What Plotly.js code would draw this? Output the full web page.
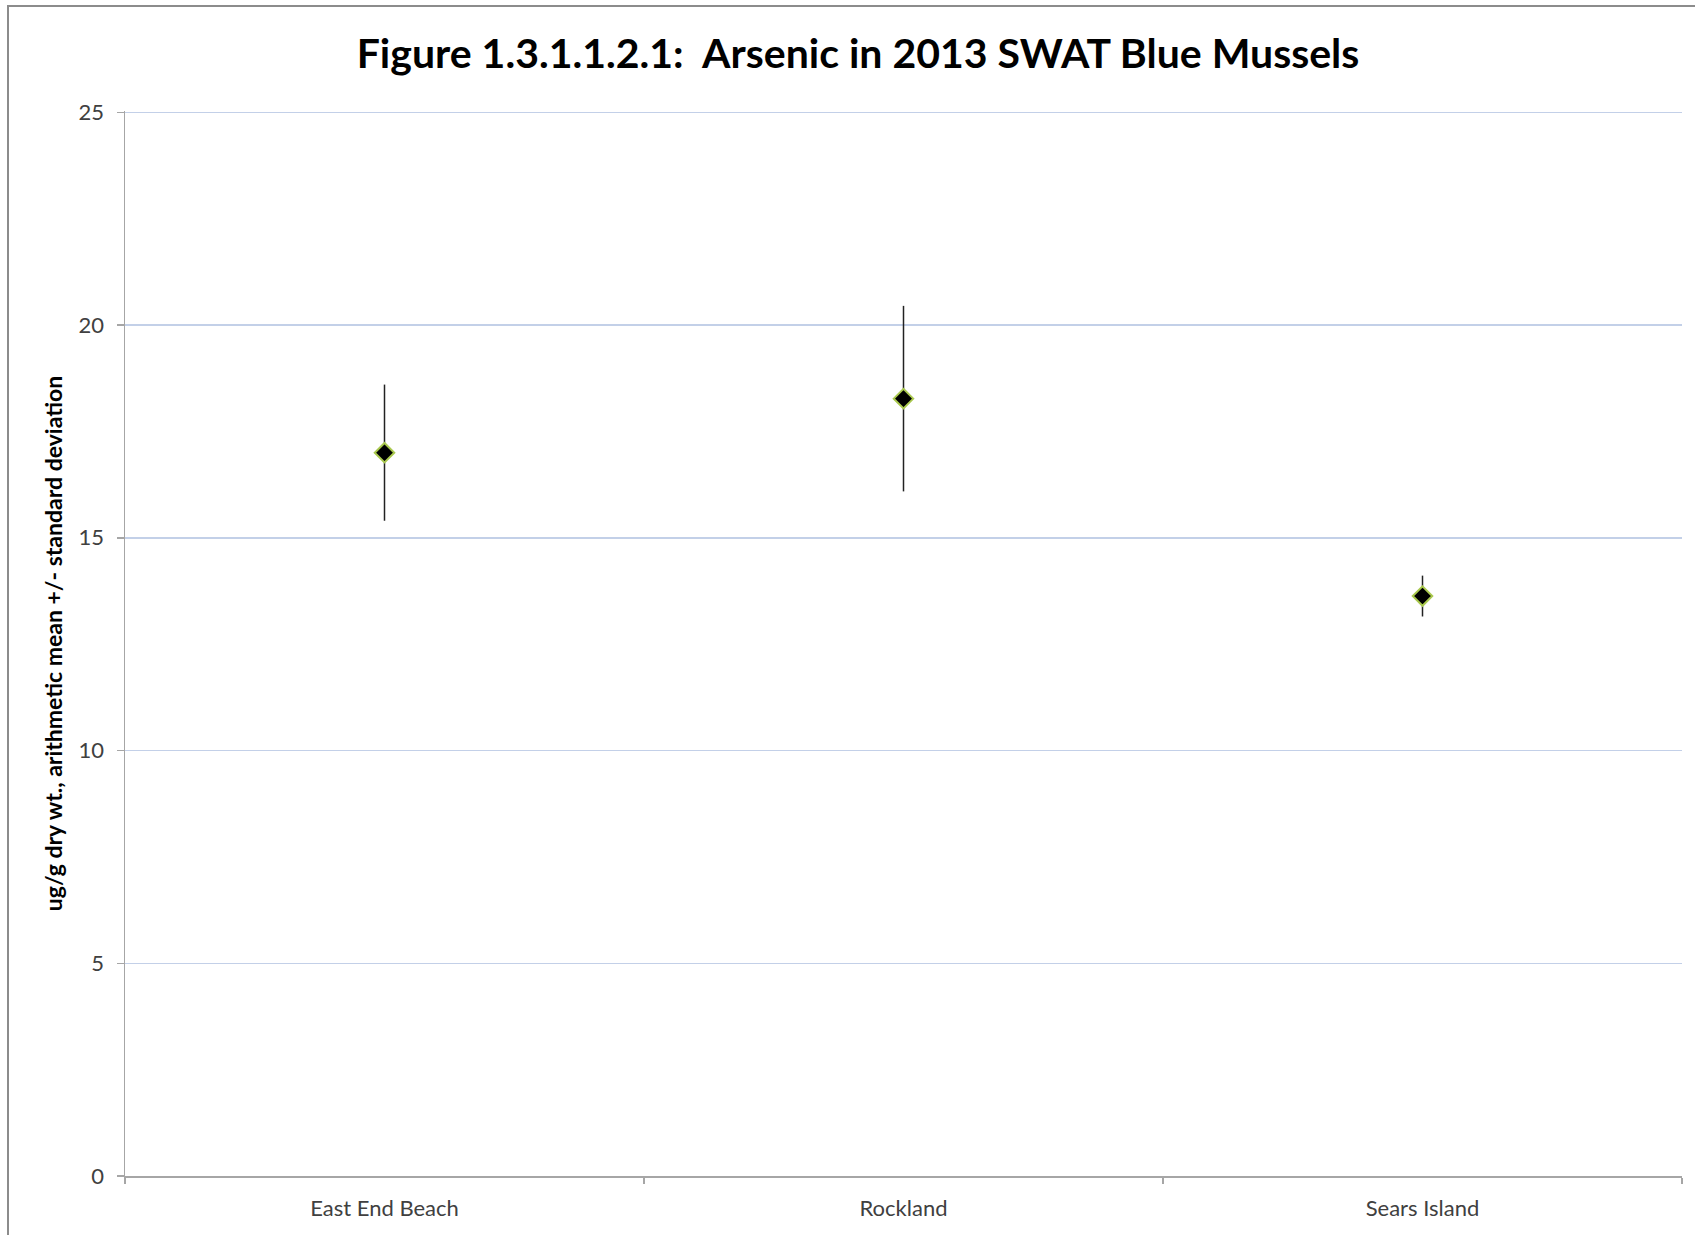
<!DOCTYPE html>
<html>
<head>
<meta charset="utf-8">
<script src="https://cdn.plot.ly/plotly-3.0.1.min.js"></script>
<style>
  html, body { margin: 0; padding: 0; background: #fff; overflow: hidden; }
  #chart { width: 1695px; height: 1235px; }
  #frame { position: absolute; left: 7px; top: 5px; width: 1800px; height: 1400px;
           border: 2px solid #8c8c8c; pointer-events: none; }
</style>
</head>
<body>
<div id="chart"></div>
<div id="frame"></div>
<script>
const categories = ["East End Beach", "Rockland", "Sears Island"];
const meanValues = [17.0, 18.27, 13.63];
const sdValues = [1.6, 2.18, 0.48];
const yTickValues = [0, 5, 10, 15, 20, 25];

const trace = {
  type: "scatter",
  mode: "markers",
  x: categories,
  y: meanValues,
  error_y: { type: "data", array: sdValues, visible: true, color: "#222222", thickness: 1.5, width: 0 },
  marker: { symbol: "diamond", size: 15, color: "#000000", line: { color: "#a9c84e", width: 2 } },
  hoverinfo: "skip"
};

const layout = {
  width: 1695,
  height: 1235,
  margin: { l: 125, r: 13, t: 111, b: 59 },
  paper_bgcolor: "#ffffff",
  plot_bgcolor: "#ffffff",
  showlegend: false,
  font: { family: "Lato, 'Open Sans', sans-serif", color: "#404040" },
  title: {
    text: "<b>Figure 1.3.1.1.2.1:  Arsenic in 2013 SWAT Blue Mussels</b>",
    font: { family: "Lato, 'Open Sans', sans-serif", size: 41, color: "#000000" },
    x: 858 / 1695, xanchor: "center", xref: "container",
    y: 1 - 54 / 1235, yanchor: "middle", yref: "container"
  },
  xaxis: {
    type: "category",
    range: [-0.5, 2.5],
    tickson: "boundaries",
    ticks: "outside",
    ticklen: 6,
    tickcolor: "#a6a6a6",
    tickwidth: 1.5,
    showline: true,
    linecolor: "#a6a6a6",
    linewidth: 1.5,
    showgrid: false,
    zeroline: false,
    ticklabelstandoff: 12,
    tickfont: { size: 22, color: "#404040" },
    fixedrange: true
  },
  yaxis: {
    range: [0, 25.03],
    tickvals: yTickValues,
    ticktext: yTickValues.map(String),
    ticks: "outside",
    ticklen: 7,
    tickcolor: "#a6a6a6",
    tickwidth: 1.5,
    showline: true,
    linecolor: "#a6a6a6",
    linewidth: 1.5,
    showgrid: true,
    gridcolor: "#c3d0e8",
    gridwidth: 1.5,
    zeroline: false,
    ticklabelstandoff: 8,
    tickfont: { size: 22, color: "#404040" },
    title: {
      text: "<b>ug/g dry wt., arithmetic mean +/- standard deviation</b>",
      font: { size: 23, color: "#000000" },
      standoff: 9
    },
    fixedrange: true
  }
};

Plotly.newPlot("chart", [trace], layout, { displayModeBar: false, staticPlot: true });
</script>
</body>
</html>
